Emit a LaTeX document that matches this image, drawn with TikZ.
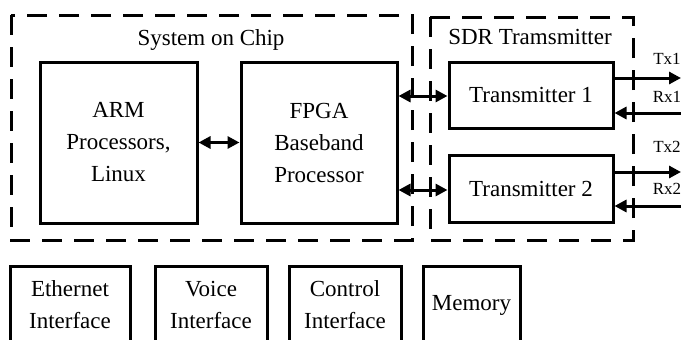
\documentclass[tikz,border=0pt]{standalone}
\usepackage{fontspec}
\setmainfont{Liberation Serif}
\usetikzlibrary{arrows.meta,positioning,calc}

\begin{document}
\begin{tikzpicture}[
  x=1pt, y=-1pt,
  blk/.style={draw, line width=3pt, inner sep=0pt, align=center,
    font=\fontsize{23}{32}\selectfont},
  grp/.style={draw, line width=3pt, dash pattern=on 20pt off 12pt},
  lbl/.style={font=\fontsize{23}{32}\selectfont},
  sig/.style={font=\fontsize{17}{20}\selectfont},
  link/.style={line width=3pt, {Triangle[length=12pt,width=12pt]}-{Triangle[length=12pt,width=12pt]}},
  wire/.style={line width=3pt, -{Triangle[length=12pt,width=12pt]}}
]
  \useasboundingbox (0,0) rectangle (681,340);
  \clip (0,0) rectangle (681,340);

  % Dashed groups
  \draw[grp] (11,15) rectangle (412,240);
  \draw[grp] (430,17) rectangle (633,240);
  \node[lbl] (soclbl) at (211,40) {System on Chip};
  \node[lbl] (sdrlbl) at (530,37) {SDR Tramsmitter};

  % System on chip blocks
  \node[blk, minimum width=157pt, minimum height=161pt] (arm) at (118.5,142.5)
    {ARM\\Processors,\\Linux};
  \node[blk, minimum width=156pt, minimum height=161pt] (fpga) at (319,142.5)
    {FPGA\\Baseband\\Processor};

  % Transmitters
  \node[blk, minimum width=164pt, minimum height=66pt] (tx1) at (531,95)
    {Transmitter 1};
  \node[blk, minimum width=164pt, minimum height=67pt] (tx2) at (531,188.5)
    {Transmitter 2};

  % Interfaces
  \node[blk, minimum width=120pt, minimum height=78pt] (eth) at (70,305)
    {Ethernet\\Interface};
  \node[blk, minimum width=112pt, minimum height=78pt] (voice) at (211,305)
    {Voice\\Interface};
  \node[blk, minimum width=112pt, minimum height=78pt] (ctrl) at (345,305)
    {Control\\Interface};
  \node[blk, minimum width=97pt, minimum height=78pt] (mem) at (471.5,305)
    {Memory};

  % Links
  \draw[link] (arm.east) -- (fpga.west);
  \draw[link] (tx1.west |- 0,96) -- (fpga.east |- 0,96);
  \draw[link] (tx2.west |- 0,190) -- (fpga.east |- 0,190);

  % Antenna ports
  \coordinate (tx1out) at (681,78);
  \coordinate (rx1in) at (681,113);
  \coordinate (tx2out) at (681,172);
  \coordinate (rx2in) at (681,206);
  \draw[wire] (tx1.east |- tx1out) -- (tx1out);
  \draw[wire] (rx1in) -- (rx1in -| tx1.east);
  \draw[wire] (tx2.east |- tx2out) -- (tx2out);
  \draw[wire] (rx2in) -- (rx2in -| tx2.east);
  \node[sig] (tx1lbl) at (667,59) {Tx1};
  \node[sig] (rx1lbl) at (667,97) {Rx1};
  \node[sig] (tx2lbl) at (667,147) {Tx2};
  \node[sig] (rx2lbl) at (667,189) {Rx2};
\end{tikzpicture}
\end{document}
